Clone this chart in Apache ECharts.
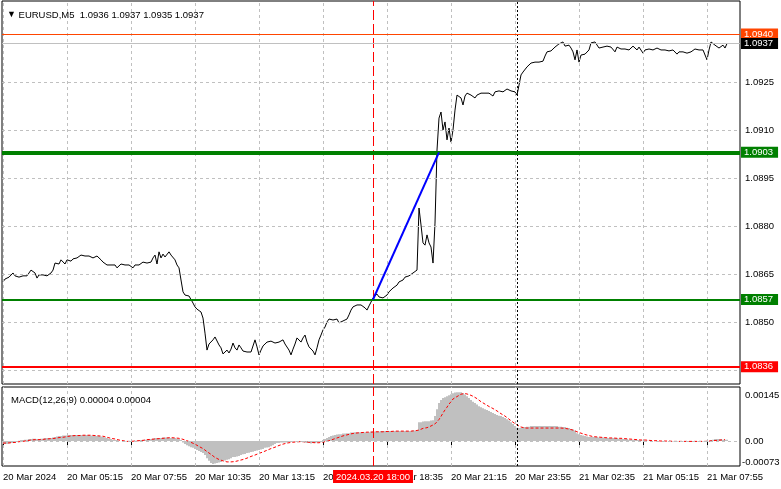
<!DOCTYPE html>
<html><head><meta charset="utf-8">
<script src="https://cdn.jsdelivr.net/npm/echarts/dist/echarts.min.js"></script>
<style>html,body{margin:0;padding:0;background:#fff}#c{width:781px;height:489px}</style>
</head><body><div id="c"></div>
<script>
// ---------------- DATA ----------------
const titleText = 'EURUSD,M5  1.0936 1.0937 1.0935 1.0937';
const macdTitle = 'MACD(12,26,9) 0.00004 0.00004';
const barCount = 369;               // slots on the time axis (5-minute bars)
const startTimeUTC = Date.UTC(2024, 2, 20, 2, 35);
const tickEvery = 32;
const tickLabels = ['20 Mar 2024','20 Mar 05:15','20 Mar 07:55','20 Mar 10:35','20 Mar 13:15','20 Mar 15:55',
  '20 Mar 18:35','20 Mar 21:15','20 Mar 23:55','21 Mar 02:35','21 Mar 05:15','21 Mar 07:55'];

const closes = [
1.08625,1.08634,1.08637,1.08640,1.08644,1.08653,1.08644,1.08647,1.08640,1.08637,1.08644,1.08640,1.08644,1.08653,1.08662,1.08665,1.08653,1.08637,1.08647,1.08653,1.08647,1.08650,1.08644,1.08647,1.08653,1.08662,
1.08684,1.08687,1.08681,1.08694,1.08690,1.08681,1.08694,1.08700,1.08690,1.08697,1.08703,1.08700,1.08706,1.08709,1.08712,1.08706,1.08703,1.08706,1.08703,1.08700,1.08703,1.08706,1.08700,1.08694,1.08687,
1.08681,1.08678,1.08684,1.08678,1.08675,1.08678,1.08669,1.08672,1.08681,1.08681,1.08678,1.08675,1.08678,1.08672,1.08669,1.08678,1.08684,1.08678,1.08684,1.08687,1.08681,1.08684,1.08681,1.08687,1.08700,
1.08709,1.08681,1.08719,1.08700,1.08712,1.08703,1.08709,1.08719,1.08709,1.08703,1.08694,1.08678,1.08669,1.08631,
1.08594,1.08584,1.08587,1.08581,1.08575,1.08559,1.08547,1.08540,1.08537,1.08531,1.08512,
1.08465,1.08412,1.08431,1.08425,1.08444,1.08453,1.08447,1.08428,1.08419,1.08400,1.08397,1.08412,1.08403,1.08415,1.08434,1.08419,1.08412,1.08428,1.08419,1.08409,1.08406,1.08406,1.08409,1.08406,1.08412,1.08444,
1.08422,1.08397,1.08412,1.08425,1.08428,1.08437,1.08434,1.08440,1.08444,1.08434,1.08428,1.08437,1.08440,1.08444,1.08431,1.08425,1.08412,1.08397,1.08415,1.08431,1.08450,1.08447,1.08437,1.08450,1.08459,1.08437,1.08422,1.08419,1.08409,1.08397,1.08419,1.08444,
1.08459,1.08475,1.08484,1.08500,1.08509,1.08512,1.08506,1.08503,1.08509,1.08497,1.08500,1.08503,1.08506,1.08509,1.08522,1.08537,1.08547,1.08553,1.08553,1.08550,1.08553,1.08553,1.08544,1.08537,1.08550,1.08562,
1.08575,1.08578,1.08587,1.08578,1.08575,1.08575,1.08578,1.08584,1.08594,1.08600,1.08606,1.08609,1.08615,1.08625,1.08622,1.08631,1.08640,1.08634,1.08644,1.08647,1.08653,1.08656,1.08662,
1.08856,1.08803,1.08747,1.08740,1.08772,1.08747,1.08734,1.08684,1.08809,1.09037,1.09137,1.09156,1.09100,1.09125,1.09069,1.09106,1.09062,1.09100,1.09162,
1.09209,1.09212,1.09200,1.09178,1.09206,1.09215,1.09215,1.09209,1.09203,1.09200,1.09209,1.09212,1.09215,1.09215,1.09215,1.09215,1.09215,1.09212,1.09206,1.09219,1.09225,1.09222,1.09219,1.09219,1.09222,1.09228,1.09225,1.09222,1.09222,1.09219,1.09209,
1.09240,1.09272,1.09281,1.09287,1.09297,1.09303,1.09309,1.09312,1.09312,1.09312,1.09312,1.09312,1.09315,1.09331,1.09344,1.09347,1.09347,1.09350,1.09359,1.09365,1.09369,1.09375,1.09375,1.09362,1.09359,1.09365,1.09356,1.09344,1.09319,
1.09350,1.09312,1.09334,1.09337,1.09337,1.09340,1.09350,1.09372,1.09375,1.09375,
1.09372,1.09356,1.09350,1.09359,1.09365,1.09362,1.09356,1.09359,1.09356,1.09344,
1.09359,1.09362,1.09353,1.09350,1.09353,1.09350,1.09350,1.09356,1.09362,1.09365,
1.09350,1.09359,1.09356,1.09340,1.09350,1.09356,1.09353,1.09350,1.09350,1.09353,
1.09356,1.09356,1.09350,1.09344,1.09350,1.09350,1.09347,1.09350,1.09350,1.09347,
1.09337,1.09344,1.09347,1.09344,1.09347,1.09340,1.09344,1.09344,1.09347,1.09353,
1.09356,1.09350,1.09344,1.09350,1.09344,1.09319,1.09350,1.09375,1.09372,1.09365,
1.09359,1.09356,1.09362,1.09365,1.09356,1.09370
];

// MACD main (histogram) and signal, in units of 0.00001
const macdMainE5 = [
-9,-9,-9,-7,-6,-6,-4,-3,
1,3,3,4,4,6,6,7,7,
6,6,7,7,9,9,9,9,10,
12,13,15,15,16,16,16,18,18,18,
18,18,18,18,18,18,18,18,16,16,16,15,15,
13,12,10,9,7,6,4,3,3,
1,0,0,-1,-1,-1,0,0,1,1,3,3,3,
4,4,6,6,7,9,9,9,9,10,10,10,10,9,9,9,7,6,3,
-4,-9,-12,-15,-18,-20,-23,-26,-29,-32,-35,
-41,-50,-58,-64,-67,-66,-64,-63,-61,-58,-57,-55,-53,-50,-47,
-47,-45,-44,-41,-39,-38,-35,-34,-32,-31,-29,-28,-26,-25,-23,-20,-19,-18,-15,-12,-9,
-6,-6,-4,-4,-4,-4,-3,-3,-1,-1,-1,-1,-3,-3,-4,-6,-6,-7,-6,-6,-4,-3,
0,3,6,9,12,15,16,18,19,20,20,22,22,23,23,25,25,26,26,26,26,26,26,26,26,28,
28,28,28,28,29,29,29,29,29,29,29,29,29,29,29,29,29,29,29,29,31,31,31,
55,55,57,58,58,58,60,61,73,93,111,120,126,128,131,134,137,140,142,
143,143,143,140,136,131,126,120,115,111,107,102,99,96,93,91,88,85,82,79,76,74,73,70,67,64,60,55,50,44,39,
38,39,41,41,42,42,44,44,44,44,44,44,44,44,44,44,44,44,44,44,42,42,41,41,39,38,35,34,31,
23,20,18,16,15,13,12,12,12,12,12,10,10,
10,9,9,9,9,9,9,
9,7,7,6,6,6,4,4,4,3,
3,3,3,1,1,1,1,1,0,0,0,0,0,0,0,0,
0,-1,-1,-1,-1,-1,-1,-1,-1,-1,-1,-1,-1,-1,-1,-1,-1,-1,
0,0,-1,3,4,6,6,6,6,4,4,4
];
const macdSignalE5 = [
-6,-6,-6,-5,-5,-4,-4,-3,
-2,-1,-1,0,1,2,3,3,4,
4,4,5,5,6,6,7,7,8,
8,9,10,11,11,12,13,14,15,15,
16,16,16,17,17,17,17,17,17,17,16,16,15,
15,14,13,11,10,8,7,6,4,
3,2,1,0,-1,-1,-1,-1,0,1,1,2,2,
3,4,4,5,5,6,6,7,8,8,9,9,9,10,10,9,9,8,7,
5,4,1,-1,-4,-6,-9,-13,-16,-19,-22,
-26,-31,-35,-39,-44,-48,-51,-54,-56,-58,-60,-61,-61,-61,-61,
-60,-58,-57,-55,-54,-52,-50,-48,-45,-43,-41,-39,-36,-34,-32,-29,-27,-25,-22,-20,-18,
-15,-13,-11,-9,-8,-6,-5,-4,-4,-3,-2,-2,-2,-2,-3,-3,-4,-4,-5,-5,-5,-5,
-4,-3,-2,-1,1,3,5,7,9,11,13,15,17,18,20,21,22,23,24,24,25,25,26,26,26,26,
27,27,27,27,27,27,28,28,28,28,29,29,29,29,29,29,29,29,29,29,29,30,30,
32,35,37,38,39,41,44,47,50,55,63,72,82,91,99,108,115,123,128,
130,134,137,139,139,137,136,134,131,128,124,120,115,112,108,105,101,98,95,91,88,83,80,77,73,69,64,60,55,51,47,
44,41,39,38,38,38,38,38,38,38,38,38,38,38,38,38,38,38,38,38,38,38,38,37,37,35,34,32,
30,27,25,23,21,19,18,16,15,13,13,12,12,
11,11,10,10,9,9,9,
8,8,8,8,7,7,6,6,6,5,
4,4,4,3,3,3,2,2,2,1,1,1,1,0,0,0,
0,0,-1,-1,-1,-1,-1,-1,-1,-1,-1,-1,-1,-1,-1,-1,-1,-1,
-1,-1,-1,0,0,1,1,2,3,3,4,4
];

const priceGridValues = [1.0835,1.0850,1.0865,1.0880,1.0895,1.0910,1.0925,1.0940];
const priceGridLabelled = [1.0850,1.0865,1.0880,1.0895,1.0910,1.0925];
const levelValues = [1.0940, 1.0937, 1.0903, 1.0857, 1.0836];
const macdTickValues = [0.00145, 0.00, -0.00073];
const trendPoints = [[185, 1.0857], [218, 1.0903]];
const eventIndex = 185, eventLabel = '2024.03.20 18:00';
const daySeparatorIndex = 257;

// ---------------- BUILD ----------------
const pad = n => (n < 10 ? '0' : '') + n;
const cats = [];
for (let i = 0; i < barCount; i++) {
  const d = new Date(startTimeUTC + i * 300000);
  cats.push(d.getUTCFullYear() + '.' + pad(d.getUTCMonth() + 1) + '.' + pad(d.getUTCDate()) + ' ' + pad(d.getUTCHours()) + ':' + pad(d.getUTCMinutes()));
}
const FONT = 'Liberation Sans';
const FS = 9.5;
const gridDash = { color: '#c0c0c0', width: 1, type: [3, 3] };
const tickIdx = tickLabels.map((_, k) => k * tickEvery);
const macdMain = macdMainE5.map(v => v / 1e5);
const macdSignal = macdSignalE5.map(v => v / 1e5);

const levelStyles = [
  { line: '#ff4500', w: 1, bg: '#ff4500' },
  { line: '#c0c0c0', w: 1, bg: '#000000' },
  { line: '#008000', w: 4, bg: '#008000' },
  { line: '#008000', w: 2, bg: '#008000' },
  { line: '#ff0000', w: 2, bg: '#ff0000' }
];

function vLines(idxs, style) {
  return idxs.map(i => ({ xAxis: cats[i], lineStyle: style, label: { show: false } }));
}
function hLine(v, style, label) {
  return { yAxis: v, lineStyle: style, label: label };
}

const mainGridLines = priceGridValues.map(v => hLine(v, gridDash, {
  show: priceGridLabelled.indexOf(v) >= 0, position: 'end', distance: 5,
  formatter: v.toFixed(4), color: '#000', fontSize: FS, fontFamily: FONT
})).concat(vLines(tickIdx, gridDash));

const markerStyleRed = { color: '#ff0000', width: 1, type: [10, 4] };
const markerStyleBlack = { color: '#000000', width: 1, type: [2, 2] };

const levelLines = levelValues.map((v, k) => hLine(v,
  { color: levelStyles[k].line, width: levelStyles[k].w, type: 'solid' },
  { show: true, position: 'end', distance: 1, formatter: v.toFixed(4),
    color: '#fff', backgroundColor: levelStyles[k].bg, padding: [1, 5, 0, 3],
    fontSize: FS, fontFamily: FONT, lineHeight: 10 }));

// MT4 keeps the extreme scale labels slightly inside the panel
const macdLabelShift = v => (v > 0 ? 4 : v < 0 ? -4 : 0);
const macdGridLines = vLines(tickIdx, gridDash).concat(macdTickValues.map(v => hLine(v,
  v === 0 ? gridDash : { color: 'rgba(0,0,0,0)', width: 0 },
  { show: true, position: 'end', distance: v < 0 ? 2 : 5, offset: [0, macdLabelShift(v)],
    formatter: v === 0 ? '0.00' : v.toFixed(5), color: '#000', fontSize: FS, fontFamily: FONT })));

const hidden = { opacity: 0, width: 0 };
const ML = { silent: true, symbol: ['none', 'none'], animation: false, precision: 8 };

const chart = echarts.init(document.getElementById('c'), null, { renderer: 'canvas' });
chart.setOption({
  animation: false,
  backgroundColor: '#ffffff',
  title: [
    { left: 2, top: 5, text: '{a|▼} ' + titleText,
      textStyle: { fontSize: FS, fontWeight: 'normal', color: '#000', fontFamily: FONT,
        rich: { a: { fontSize: 9, color: '#000' } } } },
    { left: 6, top: 390, text: macdTitle,
      textStyle: { fontSize: FS, fontWeight: 'normal', color: '#000', fontFamily: FONT } }
  ],
  grid: [
    { left: 2, right: 41, top: 1, height: 383, show: true, borderColor: '#000', borderWidth: 1, backgroundColor: '#fff' },
    { left: 2, right: 41, top: 387, height: 79, show: true, borderColor: '#000', borderWidth: 1, backgroundColor: '#fff' }
  ],
  xAxis: [
    { gridIndex: 0, type: 'category', data: cats, boundaryGap: true,
      axisLine: { show: false }, axisTick: { show: false }, axisLabel: { show: false }, splitLine: { show: false } },
    { gridIndex: 1, type: 'category', data: cats, boundaryGap: true,
      axisLine: { show: false },
      axisTick: { show: true, alignWithLabel: true, length: 4, interval: i => i % tickEvery === 0, lineStyle: { color: '#000' } },
      axisLabel: { show: true, interval: i => i % tickEvery === 0, align: 'left', margin: 6,
        formatter: (val, i) => tickLabels[Math.round(i / tickEvery)] || '',
        color: '#000', fontSize: FS, fontFamily: FONT },
      splitLine: { show: false } }
  ],
  yAxis: [
    { gridIndex: 0, type: 'value', min: 1.08306, max: 1.09503, show: false, splitLine: { show: false } },
    { gridIndex: 1, type: 'value', min: -0.00073, max: 0.00158, show: false, splitLine: { show: false } }
  ],
  series: [
    { name: 'gridMain', type: 'line', xAxisIndex: 0, yAxisIndex: 0, data: closes, z: 1, silent: true,
      symbol: 'none', lineStyle: hidden,
      markLine: Object.assign({}, ML, {
        data: mainGridLines.concat(vLines([eventIndex], markerStyleRed), vLines([daySeparatorIndex], markerStyleBlack)) }) },
    { name: 'gridMacd', type: 'line', xAxisIndex: 1, yAxisIndex: 1, data: macdSignal, z: 1, silent: true,
      symbol: 'none', lineStyle: hidden,
      markLine: Object.assign({}, ML, {
        data: macdGridLines.concat(vLines([daySeparatorIndex], markerStyleBlack)) }) },
    { name: 'MACD', type: 'bar', xAxisIndex: 1, yAxisIndex: 1, z: 2,
      data: macdMain, barCategoryGap: '0%', barGap: '0%',
      itemStyle: { color: '#c0c0c0' } },
    { name: 'Signal', type: 'line', xAxisIndex: 1, yAxisIndex: 1, z: 3, symbol: 'none',
      data: macdSignal,
      lineStyle: { color: '#ff0000', width: 1, type: [3, 2] } },
    { name: 'eventMacd', type: 'line', xAxisIndex: 1, yAxisIndex: 1, data: macdSignal, z: 6, silent: true,
      symbol: 'none', lineStyle: hidden,
      markLine: Object.assign({}, ML, {
        data: [{ xAxis: cats[eventIndex], lineStyle: markerStyleRed,
          label: { show: true, position: 'start', distance: 4, formatter: eventLabel,
            color: '#fff', backgroundColor: '#ff0000', padding: [2, 3, 1, 3],
            fontSize: FS, fontFamily: FONT } }] }) },
    { name: 'EURUSD', type: 'line', xAxisIndex: 0, yAxisIndex: 0, z: 3, symbol: 'none',
      data: closes, lineStyle: { color: '#000', width: 1 } },
    { name: 'levels', type: 'line', xAxisIndex: 0, yAxisIndex: 0, data: closes, z: 4, silent: true,
      symbol: 'none', lineStyle: hidden,
      markLine: Object.assign({}, ML, { data: levelLines }) },
    { name: 'trend', type: 'line', xAxisIndex: 0, yAxisIndex: 0, z: 5, symbol: 'none',
      data: trendPoints.map(p => [cats[p[0]], p[1]]),
      lineStyle: { color: '#0000ff', width: 2 } }
  ]
});
</script>
</body></html>
